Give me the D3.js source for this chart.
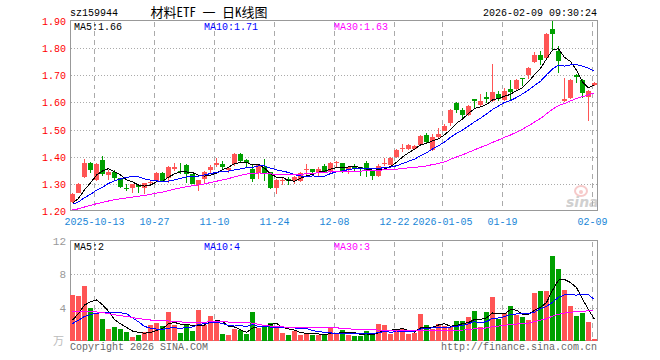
<!DOCTYPE html>
<html>
<head>
<meta charset="utf-8">
<script src="https://cdn.jsdelivr.net/npm/d3@7"></script>
<style>
body { margin: 0; background: #fff; }
svg text { font-family: "Liberation Mono", "DejaVu Sans Mono", monospace; font-size: 10px; }
</style>
</head>
<body>
<div id="chart"></div>
<script>
// trading days shown
const dates = [
    "2025-09-29","2025-09-30","2025-10-09","2025-10-10","2025-10-13","2025-10-14","2025-10-15","2025-10-16","2025-10-17",
    "2025-10-20","2025-10-21","2025-10-22","2025-10-23","2025-10-24","2025-10-27","2025-10-28","2025-10-29","2025-10-30",
    "2025-10-31","2025-11-03","2025-11-04","2025-11-05","2025-11-06","2025-11-07","2025-11-10","2025-11-11","2025-11-12",
    "2025-11-13","2025-11-14","2025-11-17","2025-11-18","2025-11-19","2025-11-20","2025-11-21","2025-11-24","2025-11-25",
    "2025-11-26","2025-11-27","2025-11-28","2025-12-01","2025-12-02","2025-12-03","2025-12-04","2025-12-05","2025-12-08",
    "2025-12-09","2025-12-10","2025-12-11","2025-12-12","2025-12-15","2025-12-16","2025-12-17","2025-12-18","2025-12-19",
    "2025-12-22","2025-12-23","2025-12-24","2025-12-25","2025-12-26","2025-12-29","2025-12-30","2025-12-31","2026-01-05",
    "2026-01-06","2026-01-07","2026-01-08","2026-01-09","2026-01-12","2026-01-13","2026-01-14","2026-01-15","2026-01-16",
    "2026-01-19","2026-01-20","2026-01-21","2026-01-22","2026-01-23","2026-01-26","2026-01-27","2026-01-28","2026-01-29",
    "2026-01-30","2026-02-02","2026-02-03","2026-02-04","2026-02-05","2026-02-06","2026-02-09"
];

const open = [
    1.232,1.268,1.324,1.377,1.314,1.388,1.333,1.345,1.320,1.286,1.284,1.296,1.285,1.303,1.311,1.341,1.320,1.355,1.349,1.370,
    1.336,1.296,1.318,1.350,1.370,1.373,1.350,1.373,1.410,1.388,1.356,1.339,1.363,1.342,1.283,1.311,1.317,1.312,1.312,1.351,
    1.354,1.339,1.366,1.345,1.376,1.376,1.351,1.362,1.361,1.376,1.350,1.329,1.373,1.370,1.398,1.429,1.428,1.429,1.443,1.480,
    1.425,1.471,1.495,1.525,1.599,1.572,1.553,1.613,1.589,1.620,1.606,1.631,1.610,1.651,1.650,1.690,1.702,1.749,1.774,1.762,
    1.872,1.788,1.604,1.616,1.702,1.684,1.620,1.665
];
const high = [
    1.266,1.302,1.392,1.379,1.376,1.404,1.351,1.350,1.322,1.298,1.300,1.297,1.304,1.312,1.342,1.342,1.364,1.376,1.376,1.372,
    1.338,1.316,1.347,1.368,1.394,1.386,1.362,1.412,1.412,1.390,1.370,1.372,1.390,1.344,1.317,1.324,1.326,1.330,1.342,1.373,
    1.356,1.361,1.373,1.382,1.386,1.378,1.363,1.374,1.363,1.384,1.352,1.372,1.394,1.400,1.428,1.447,1.445,1.442,1.480,1.489,
    1.482,1.505,1.519,1.575,1.601,1.578,1.590,1.614,1.631,1.638,1.743,1.641,1.653,1.684,1.686,1.690,1.729,1.786,1.791,1.855,
    1.900,1.807,1.690,1.686,1.705,1.686,1.646,1.674
];
const low = [
    1.228,1.265,1.322,1.339,1.311,1.330,1.314,1.315,1.286,1.274,1.268,1.268,1.262,1.300,1.308,1.309,1.302,1.347,1.336,1.304,
    1.298,1.275,1.305,1.340,1.361,1.351,1.339,1.366,1.378,1.363,1.308,1.317,1.312,1.280,1.262,1.296,1.296,1.300,1.308,1.326,
    1.338,1.329,1.339,1.339,1.362,1.341,1.336,1.345,1.329,1.326,1.315,1.327,1.364,1.368,1.396,1.418,1.426,1.425,1.441,1.452,
    1.420,1.468,1.493,1.514,1.560,1.539,1.550,1.577,1.585,1.598,1.603,1.604,1.605,1.604,1.641,1.659,1.686,1.745,1.738,1.760,
    1.794,1.708,1.602,1.614,1.672,1.616,1.533,1.660
];
const close = [
    1.261,1.300,1.377,1.351,1.373,1.335,1.345,1.320,1.290,1.283,1.298,1.287,1.302,1.308,1.341,1.311,1.362,1.362,1.348,1.336,
    1.300,1.314,1.345,1.362,1.378,1.361,1.360,1.410,1.386,1.376,1.317,1.370,1.339,1.283,1.314,1.314,1.311,1.327,1.339,1.354,
    1.342,1.354,1.345,1.378,1.379,1.348,1.361,1.358,1.356,1.347,1.330,1.366,1.377,1.397,1.425,1.431,1.443,1.440,1.478,1.455,
    1.474,1.483,1.514,1.572,1.572,1.554,1.585,1.604,1.604,1.614,1.638,1.614,1.643,1.640,1.684,1.688,1.727,1.773,1.758,1.853,
    1.853,1.752,1.613,1.684,1.692,1.635,1.643,1.670
];
// volume, 万
const volume = [
    5.50,5.38,6.59,3.98,3.21,2.61,1.41,1.65,1.41,1.04,0.48,0.68,1.04,1.89,2.13,1.77,3.45,1.89,0.92,1.89,
    1.16,3.69,1.90,3.00,2.40,0.90,0.70,1.40,1.30,0.90,3.45,1.55,1.90,2.15,1.55,0.95,0.70,1.20,0.70,0.95,
    0.70,0.70,0.70,1.55,0.90,1.30,0.70,0.56,0.56,1.16,0.68,2.00,1.90,0.80,1.40,1.40,0.80,1.00,3.20,1.90,
    1.40,2.10,1.80,1.65,2.40,2.40,2.85,3.60,1.65,3.45,5.26,2.60,3.33,4.20,3.10,2.85,2.50,5.74,6.00,6.00,
    10.20,8.60,6.10,4.20,2.97,3.33,2.25,0.20
];

// the 29 sessions before the first one, only feed the moving averages
const priorCloses = [
    1.180,1.175,1.178,1.185,1.190,1.188,1.183,1.186,1.192,1.198,1.195,1.200,1.203,1.198,1.196,1.201,1.205,1.202,1.208,1.207,
    1.215,1.222,1.225,1.224,1.223,1.208,1.220,1.225,1.227
];
const priorVolumes = [
    5.5,6.2,4.8,5.1,4.4,6.0,5.2,4.7,3.9,4.6,4.1,3.8,4.5,3.6,3.2,3.9,3.4,2.9,3.1,3.1,
    1.6,1.8,1.7,1.9,1.5,1.4,1.5,2.0,2.1
];

const tickDates = ["2025-10-13","2025-10-27","2025-11-10","2025-11-24","2025-12-08","2025-12-22","2026-01-05","2026-01-19","2026-02-09"];
const tickLabels = ["2025-10-13","10-27","11-10","11-24","12-08","12-22","2026-01-05","01-19","02-09"];
const priceTicks = [1.2, 1.3, 1.4, 1.5, 1.6, 1.7, 1.8, 1.9];
const volumeTicks = [4, 8, 12];

const maList = [
    { n: 5, color: "#000000", x: 74 },
    { n: 10, color: "#0000ff", x: 204 },
    { n: 30, color: "#ff00ff", x: 334 }
];

const RED = "#ff5555", GREEN = "#00a000", GRID = "#aaaaaa", BORDER = "#999999";

const movingAverage = (prior, values, n) => {
    const all = prior.concat(values);
    return values.map((v, i) => d3.mean(all.slice(prior.length + i - n + 1, prior.length + i + 1)));
};
const trunc = (v, d) => Math.floor(v * Math.pow(10, d) + 1e-9) / Math.pow(10, d);

const svg = d3.select("#chart")
    .append("svg")
        .attr("width", 660)
        .attr("height", 360);

const x = d3.scaleBand()
    .domain(d3.range(dates.length))
    .range([70, 598]);

const y = d3.scaleLinear()
    .domain([1.2, 1.9])
    .range([211, 21]);

const yv = d3.scaleLinear()
    .domain([0, 12])
    .range([341, 241]);

const cx = i => x(i) + 2.5;
const tickIdx = tickDates.map(d => dates.indexOf(d));

// header
svg.append("text").attr("x", 70).attr("y", 16).text("sz159944");
svg.append("text")
    .attr("x", 209).attr("y", 17)
    .attr("text-anchor", "middle")
    .style("font-family", "'Noto Sans Mono CJK SC', 'Noto Sans CJK SC', sans-serif")
    .style("font-size", "13px")
    .style("white-space", "pre")
    .text("材料ETF 一 日K线图");
svg.append("text").attr("x", 597).attr("y", 16).attr("text-anchor", "end").text("2026-02-09 09:30:24");

// panels
const panels = [
    { top: 20.5, bottom: 210.5, scale: y, ticks: priceTicks.slice(1, -1) },
    { top: 240.5, bottom: 340.5, scale: yv, ticks: [4, 8] }
];

panels.forEach(p => {
    const g = svg.append("g").attr("shape-rendering", "crispEdges");
    g.selectAll(".hgrid")
        .data(p.ticks)
        .enter()
        .append("line")
            .attr("x1", 71).attr("x2", 597)
            .attr("y1", d => Math.round(p.scale(d)) + 0.5)
            .attr("y2", d => Math.round(p.scale(d)) + 0.5)
            .attr("stroke", GRID)
            .attr("stroke-dasharray", "1,2");
    g.selectAll(".vgrid")
        .data(tickIdx)
        .enter()
        .append("line")
            .attr("x1", d => x(d) + 0.5).attr("x2", d => x(d) + 0.5)
            .attr("y1", p.top + 1).attr("y2", p.bottom)
            .attr("stroke", GRID)
            .attr("stroke-dasharray", "5,4");
    g.append("rect")
        .attr("x", 70.5).attr("y", p.top)
        .attr("width", 527).attr("height", p.bottom - p.top)
        .attr("fill", "none")
        .attr("stroke", BORDER);
});

// axis labels
svg.selectAll(".py")
    .data(priceTicks)
    .enter()
    .append("text")
        .attr("x", 66)
        .attr("y", d => y(d) + 4)
        .attr("text-anchor", "end")
        .attr("fill", "#ff0000")
        .text(d => d.toFixed(2));

svg.selectAll(".vy")
    .data(volumeTicks)
    .enter()
    .append("text")
        .attr("x", 66)
        .attr("y", d => yv(d) + 4)
        .attr("text-anchor", "end")
        .attr("fill", "#999999")
        .style("font-size", "11px")
        .text(d => d);

svg.append("text")
    .attr("x", 64).attr("y", 345)
    .attr("text-anchor", "end")
    .attr("fill", "#bbbbbb")
    .style("font-family", "'Noto Sans CJK SC', sans-serif")
    .style("font-size", "11px")
    .text("万");

svg.selectAll(".xl")
    .data(tickIdx)
    .enter()
    .append("text")
        .attr("x", d => x(d) + 0.5)
        .attr("y", 225)
        .attr("text-anchor", "middle")
        .attr("fill", "#1a86d8")
        .text((d, i) => tickLabels[i]);

// sina watermark
const logo = svg.append("g").attr("opacity", 0.55);
logo.append("ellipse").attr("cx", 581).attr("cy", 191).attr("rx", 6).attr("ry", 5)
    .attr("fill", "none").attr("stroke", "#f0a0a0").attr("stroke-width", 2);
logo.append("circle").attr("cx", 581).attr("cy", 192).attr("r", 2).attr("fill", "#f0a0a0");
logo.append("text")
    .attr("x", 566).attr("y", 207)
    .attr("fill", "#aaaaaa")
    .style("font-family", "'DejaVu Sans', sans-serif")
    .style("font-style", "italic")
    .style("font-weight", "bold")
    .style("font-size", "14px")
    .text("sina");

// candles
const candles = svg.append("g")
    .attr("shape-rendering", "crispEdges")
    .selectAll("g")
    .data(dates.map((d, i) => i))
    .enter()
    .append("g")
        .attr("fill", i => close[i] >= open[i] ? RED : GREEN);

candles.append("rect")
    .attr("x", i => x(i) + 2)
    .attr("width", 1)
    .attr("y", i => Math.round(y(high[i])))
    .attr("height", i => Math.max(1, Math.round(y(low[i])) - Math.round(y(high[i]))));

candles.append("rect")
    .attr("x", i => x(i))
    .attr("width", 5)
    .attr("y", i => Math.round(y(Math.max(open[i], close[i]))))
    .attr("height", i => Math.max(1, Math.round(y(Math.min(open[i], close[i]))) - Math.round(y(Math.max(open[i], close[i])))));

// volume bars
svg.append("g")
    .attr("shape-rendering", "crispEdges")
    .selectAll("rect")
    .data(volume)
    .enter()
    .append("rect")
        .attr("x", (d, i) => x(i))
        .attr("width", 5)
        .attr("y", d => Math.round(yv(d)))
        .attr("height", d => Math.max(1, 341 - Math.round(yv(d))))
        .attr("fill", (d, i) => close[i] >= open[i] ? RED : GREEN);

// moving averages
maList.forEach(m => {
    const pm = movingAverage(priorCloses, close, m.n);
    const vm = movingAverage(priorVolumes, volume, m.n);

    svg.append("path")
        .datum(pm)
        .attr("fill", "none")
        .attr("stroke", m.color)
        .attr("shape-rendering", "crispEdges")
        .attr("d", d3.line().x((d, i) => cx(i)).y(d => y(d)));

    svg.append("path")
        .datum(vm)
        .attr("fill", "none")
        .attr("stroke", m.color)
        .attr("shape-rendering", "crispEdges")
        .attr("d", d3.line().x((d, i) => cx(i)).y(d => yv(d)));

    svg.append("text")
        .attr("x", m.x).attr("y", 30)
        .attr("fill", m.color)
        .text(`MA${m.n}:${trunc(pm[pm.length - 1], 2).toFixed(2)}`);

    svg.append("text")
        .attr("x", m.x).attr("y", 250)
        .attr("fill", m.color)
        .text(`MA${m.n}:${Math.floor(vm[vm.length - 1])}`);
});

// footer
svg.append("text").attr("x", 70).attr("y", 350).attr("fill", "#666666").text("Copyright 2026 SINA.COM");
svg.append("text").attr("x", 597).attr("y", 350).attr("text-anchor", "end").attr("fill", "#666666").text("http://finance.sina.com.cn");
</script>
</body>
</html>
